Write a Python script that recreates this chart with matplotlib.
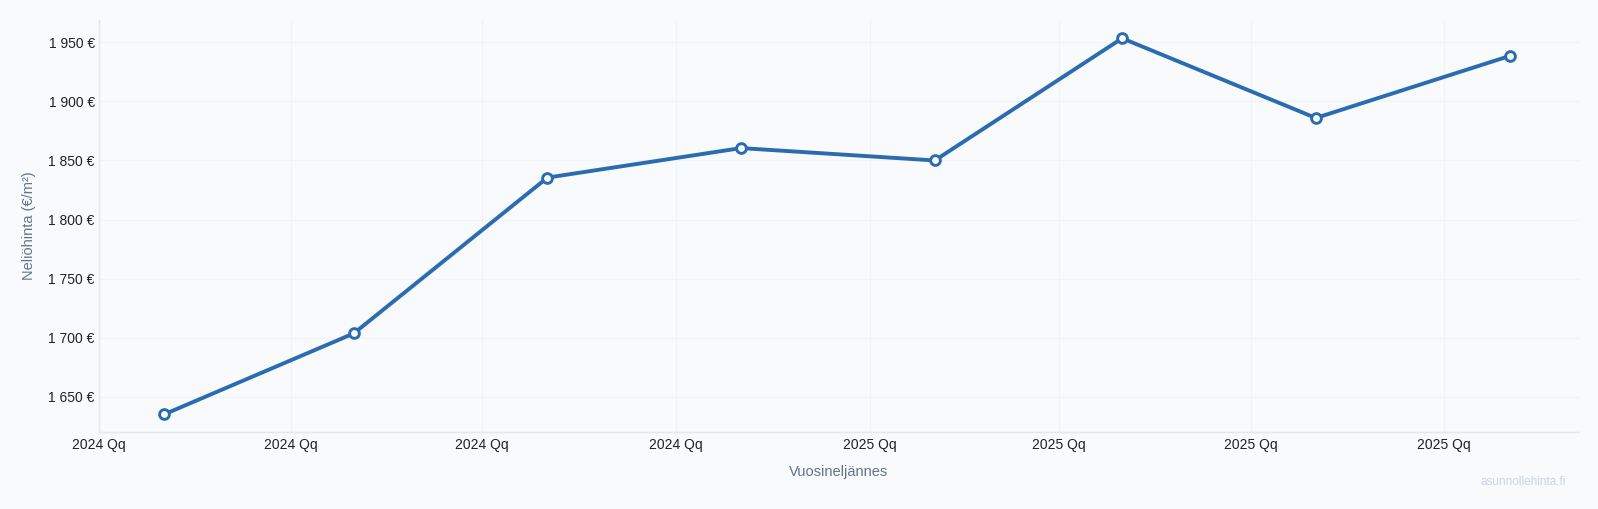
import matplotlib
matplotlib.use("Agg")
import matplotlib.pyplot as plt
from matplotlib.ticker import FuncFormatter
import datetime as dt

plt.rcParams['font.family'] = ['Liberation Sans', 'DejaVu Sans']

point_dates = ["2024-02-01", "2024-05-01", "2024-08-01", "2024-11-01",
               "2025-02-01", "2025-05-01", "2025-08-01", "2025-11-01"]
prices = [1635, 1703.5, 1835.5, 1860.5, 1850, 1953.5, 1886, 1938.5]
tick_dates = ["2024-01-01", "2024-04-01", "2024-07-01", "2024-10-01",
              "2025-01-01", "2025-04-01", "2025-07-01", "2025-10-01"]
tick_labels = ["2024 Qq", "2024 Qq", "2024 Qq", "2024 Qq",
               "2025 Qq", "2025 Qq", "2025 Qq", "2025 Qq"]
y_ticks = [1650, 1700, 1750, 1800, 1850, 1900, 1950]

bg = "#f8fafc"
fig = plt.figure(figsize=(15.98, 5.09), dpi=100, facecolor=bg)
ax = fig.add_axes([99/1598, 1 - 432/509, (1579-99)/1598, (432-20)/509])
ax.set_facecolor(bg)

x = [dt.datetime.fromisoformat(d) for d in point_dates]
ax.plot(x, prices, color="#2b6cb0", lw=2.8, marker="o", ms=7,
        mfc="white", mec="#2b6cb0", mew=2.1, zorder=3, solid_joinstyle="round")

ax.set_xlim(dt.datetime(2024, 1, 1), dt.datetime(2025, 12, 4))
ax.set_ylim(1620, 1969)
ax.set_xticks([dt.datetime.fromisoformat(d) for d in tick_dates])
ax.set_xticklabels(tick_labels)
ax.set_yticks(y_ticks)
ax.yaxis.set_major_formatter(FuncFormatter(lambda v, p: f"{int(v):,} €".replace(",", " ")))

ax.grid(True, color="#f0f3f7", lw=0.8)
ax.set_axisbelow(True)
for s in ["top", "right"]:
    ax.spines[s].set_visible(False)
for s in ["left", "bottom"]:
    ax.spines[s].set_color("#e2e8f0")
    ax.spines[s].set_linewidth(1.0)
ax.tick_params(axis="both", length=0, labelsize=10, labelcolor="#222222")
ax.tick_params(axis="x", pad=4)
ax.tick_params(axis="y", pad=3)

ax.set_xlabel("Vuosineljännes", color="#64748b", fontsize=10.5, labelpad=10)
ax.set_ylabel("Neliöhinta (€/m²)", color="#64748b", fontsize=10.5, labelpad=9)

fig.text(1566/1598, 1 - 482/509, "asunnollehinta.fi", color="#cbd5e1",
         fontsize=8.5, ha="right", va="center")

fig.savefig("out.png", dpi=100, facecolor=bg)
